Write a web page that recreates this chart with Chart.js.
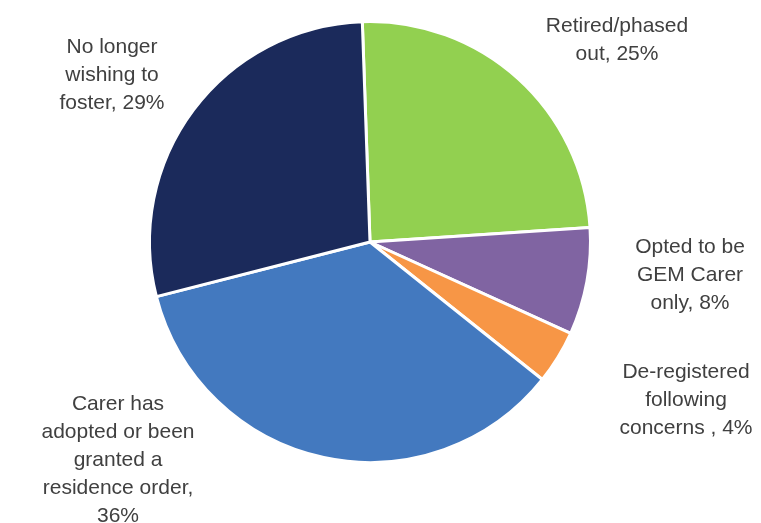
<!DOCTYPE html>
<html>
<head>
<meta charset="utf-8">
<script src="https://cdn.jsdelivr.net/npm/chart.js@4"></script>
<style>
  html, body { margin: 0; padding: 0; background: #fff; }
  #wrap { width: 761px; height: 523px; }
</style>
</head>
<body>
<div id="wrap"><canvas id="pieChart"></canvas></div>
<script>
const categories = [
  'Retired/phased out',
  'Opted to be GEM Carer only',
  'De-registered following concerns',
  'Carer has adopted or been granted a residence order',
  'No longer wishing to foster'
];
const percentValues = [25, 8, 4, 36, 29];
const labelLines = [
  ['Retired/phased', 'out, 25%'],
  ['Opted to be', 'GEM Carer', 'only, 8%'],
  ['De-registered', 'following', 'concerns , 4%'],
  ['Carer has', 'adopted or been', 'granted a', 'residence order,', '36%'],
  ['No longer', 'wishing to', 'foster, 29%']
];
const sliceColors = ['#92D050', '#8064A2', '#F79646', '#4379BF', '#1B2A5B'];

// label centre offsets from the pie centre (px)
const labelOffsets = [[247, -202], [320, 33], [316, 158], [-252, 218], [-258, -167]];

const labelPlugin = {
  id: 'outerLabels',
  afterDatasetsDraw(chart) {
    const ctx = chart.ctx;
    const arc = chart.getDatasetMeta(0).data[0];
    ctx.save();
    ctx.font = '21px "Liberation Sans", Arial, sans-serif';
    ctx.fillStyle = '#404040';
    ctx.textAlign = 'center';
    ctx.textBaseline = 'middle';
    const lh = 28;
    labelLines.forEach((lines, i) => {
      const x = arc.x + labelOffsets[i][0];
      const y0 = arc.y + labelOffsets[i][1] - (lines.length - 1) * lh / 2;
      lines.forEach((t, j) => ctx.fillText(t, x, y0 + j * lh));
    });
    ctx.restore();
  }
};

new Chart(document.getElementById('pieChart').getContext('2d'), {
  type: 'pie',
  data: {
    labels: categories,
    datasets: [{
      data: percentValues,
      backgroundColor: sliceColors,
      borderColor: '#FFFFFF',
      borderWidth: 3
    }]
  },
  options: {
    responsive: true,
    maintainAspectRatio: false,
    animation: false,
    rotation: -2,
    layout: { padding: { left: 148, right: 169, top: 20, bottom: 59 } },
    plugins: { legend: { display: false }, tooltip: { enabled: false } }
  },
  plugins: [labelPlugin]
});
</script>
</body>
</html>
